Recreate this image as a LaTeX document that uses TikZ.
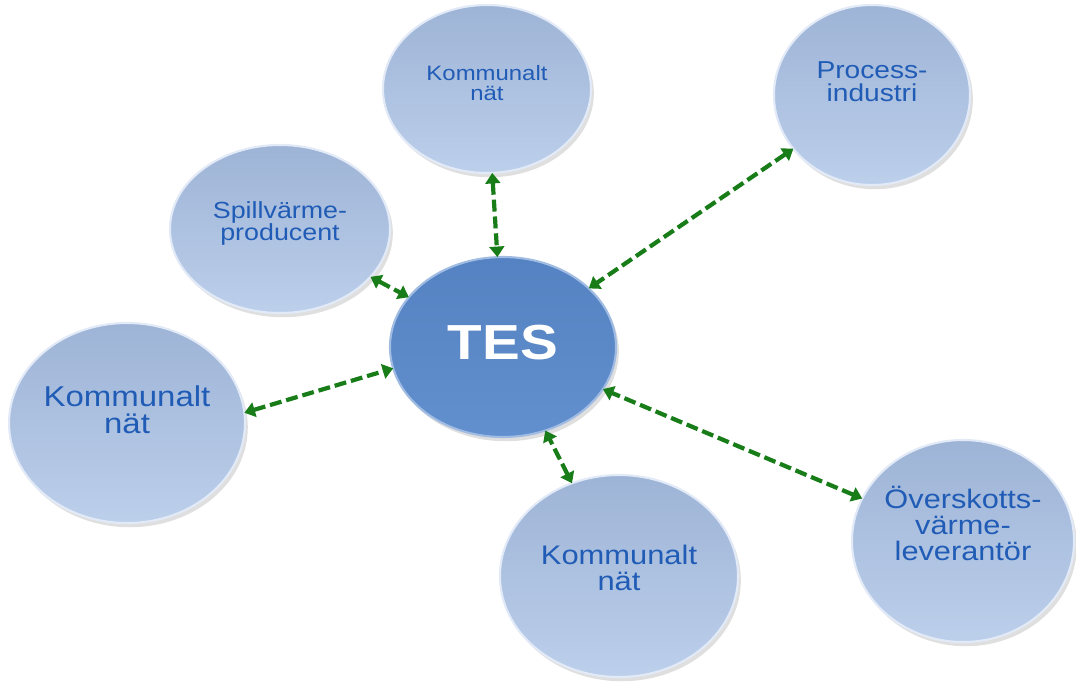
\documentclass[tikz,border=0pt]{standalone}
\usepackage{fontspec}
\setmainfont{Liberation Sans}[FakeStretch=1.15]
\usetikzlibrary{shapes.geometric,shadows,arrows.meta}

\definecolor{diskTop}{RGB}{158,180,214}
\definecolor{diskBot}{RGB}{188,207,235}
\definecolor{diskRim}{RGB}{226,234,247}
\definecolor{tesTop}{RGB}{84,130,194}
\definecolor{tesBot}{RGB}{98,144,206}
\definecolor{labelBlue}{RGB}{32,92,182}
\definecolor{linkGreen}{RGB}{24,124,24}

\begin{document}
\begin{tikzpicture}[x=0.025cm, y=-0.025cm,
		disk/.style={ellipse, inner sep=0pt, outer sep=0pt, align=center,
			top color=diskTop, bottom color=diskBot, draw=diskRim, line width=1.5pt,
			text=labelBlue, drop shadow={shadow xshift=2pt, shadow yshift=-3pt, opacity=0.25}},
		hub/.style={disk, top color=tesTop, bottom color=tesBot, draw=tesBot!60!white,
			text=white, font=\bfseries\fontsize{35}{35}\selectfont},
		lift/.style={text depth=#1},
		link/.style={{Triangle[length=7.5pt,width=10.5pt]}-{Triangle[length=7.5pt,width=10.5pt]},
			linkGreen, line width=3pt, dash pattern=on 8.5pt off 3.5pt}]
		\useasboundingbox (0,0) rectangle (1076,684);

		% disks
		\node[hub, minimum width=5.65cm, minimum height=4.5cm, lift=7pt] (tes) at (503,347) {TES};
		\node[disk, minimum width=5.2cm, minimum height=4.2cm, lift=9pt,
			font=\fontsize{14.8}{14.4}\selectfont] (topnet) at (487,89) {Kommunalt\\nät};
		\node[disk, minimum width=4.9cm, minimum height=4.5cm, lift=19pt,
			font=\fontsize{17.4}{16.6}\selectfont] (process) at (872,95) {Process-\\industri};
		\node[disk, minimum width=5.5cm, minimum height=4.2cm, lift=11pt,
			font=\fontsize{16.6}{15.8}\selectfont] (spill) at (280,229) {Spillvärme-\\producent};
		\node[disk, minimum width=5.85cm, minimum height=5.0cm, lift=19pt,
			font=\fontsize{20.4}{19.4}\selectfont] (leftnet) at (127,423) {Kommunalt\\nät};
		\node[disk, minimum width=5.95cm, minimum height=5.05cm, lift=12pt,
			font=\fontsize{19.1}{18.2}\selectfont] (botnet) at (619,576) {Kommunalt\\nät};
		\node[disk, minimum width=5.5cm, minimum height=5.05cm, lift=25pt,
			font=\fontsize{19}{18.6}\selectfont] (surplus) at (963,541) {Överskotts-\\värme-\\leverantör};

		% links to the store
		\draw[link] (topnet) -- (tes);
		\draw[link] (process) -- (tes);
		\draw[link] (spill) -- (tes);
		\draw[link] (leftnet.5) -- (tes.191);
		\draw[link] (botnet) -- (tes);
		\draw[link] (surplus) -- (tes);
	\end{tikzpicture}
\end{document}
